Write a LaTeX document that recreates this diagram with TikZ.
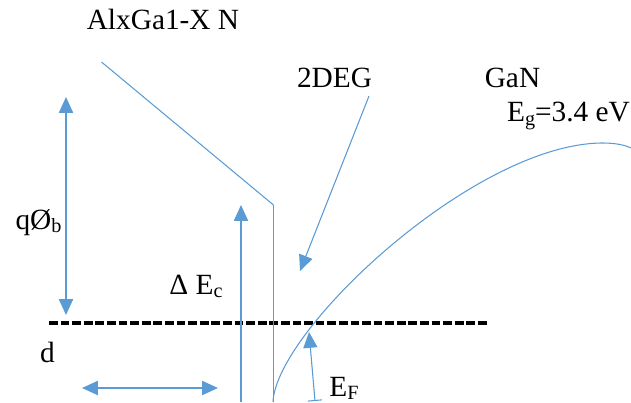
\documentclass[tikz,border=0pt]{standalone}
\usepackage{fontspec}
\setmainfont{Liberation Serif}
\usetikzlibrary{arrows.meta}
\definecolor{lineblue}{HTML}{5B9BD5}
\newcommand{\mysub}[1]{\raisebox{-0.12em}{\fontsize{11.5pt}{12pt}\selectfont #1}}
\tikzset{
  lbl/.style={inner sep=0pt, anchor=base, font=\fontsize{16.7pt}{20pt}\selectfont},
  thinline/.style={draw=lineblue, line width=0.6pt},
  thickline/.style={draw=lineblue, line width=0.95pt},
  tip/.style={-{Triangle[width=8pt,length=9pt]}},
  dtip/.style={{Triangle[width=8pt,length=9pt]}-{Triangle[width=8pt,length=9pt]}},
  fermi/.style={draw=black, line width=1.8pt, dash pattern=on 5pt off 1.6pt}
}
\begin{document}
\begin{tikzpicture}[x=0.02cm, y=-0.02cm]
\useasboundingbox (0,0) rectangle (631,402);
% labels
\node[lbl] (alg) at (163,29.5) {AlxGa1-X N};
\node[lbl] (deg) at (334.5,88) {2DEG};
\node[lbl] (gan) at (512.5,88) {GaN};
\node[lbl] (eg) at (568.5,121.5) {E\mysub{g}=3.4 eV};
\node[lbl] (qphi) at (38.5,229) {qØ\mysub{b}};
\node[lbl] (d) at (47.5,362.5) {d};
\node[lbl] (dec) at (196,294.3) {Δ E\mysub{c}};
\node[lbl] (ef) at (344,396) {E\mysub{F}};
% coordinates
\coordinate (b0) at (101.5,62);
\coordinate (b1) at (273.5,205);
\coordinate (b2) at (273.5,402);
\coordinate (q0) at (66,97);
\coordinate (q1) at (66,315);
\coordinate (h0) at (82,388);
\coordinate (h1) at (218,388);
\coordinate (e0) at (241,402);
\coordinate (e1) at (241,205);
\coordinate (t0) at (369,96);
\coordinate (t1) at (300,271);
\coordinate (f0) at (315,401);
\coordinate (f1) at (309,332);
\coordinate (l0) at (49,323);
\coordinate (l1) at (487,323);
\coordinate (c0) at (273,402);
\coordinate (c1) at (603,143);
\coordinate (c2) at (631,148);
% Fermi level
\draw[fermi] (l0) -- (l1);
% AlGaN band
\draw[thinline] (b0) -- (b1);
\draw[thickline] (b1) -- (b2);
% GaN band
\draw[thinline] (c0) .. controls (276,330) and (475,143) .. (c1)
  .. controls (615,143) and (625,145) .. (c2);
% arrows
\draw[thickline, dtip, fill=lineblue] (q0) -- (q1);
\draw[thickline, dtip, fill=lineblue] (h0) -- (h1);
\draw[thickline, tip, fill=lineblue] (e0) -- (e1);
\draw[thinline, tip, fill=lineblue] (t0) -- (t1);
\draw[thinline, {Bar[width=8pt]}-{Triangle[width=8pt,length=9pt]}, fill=lineblue] (f0) -- (f1);
\end{tikzpicture}
\end{document}
